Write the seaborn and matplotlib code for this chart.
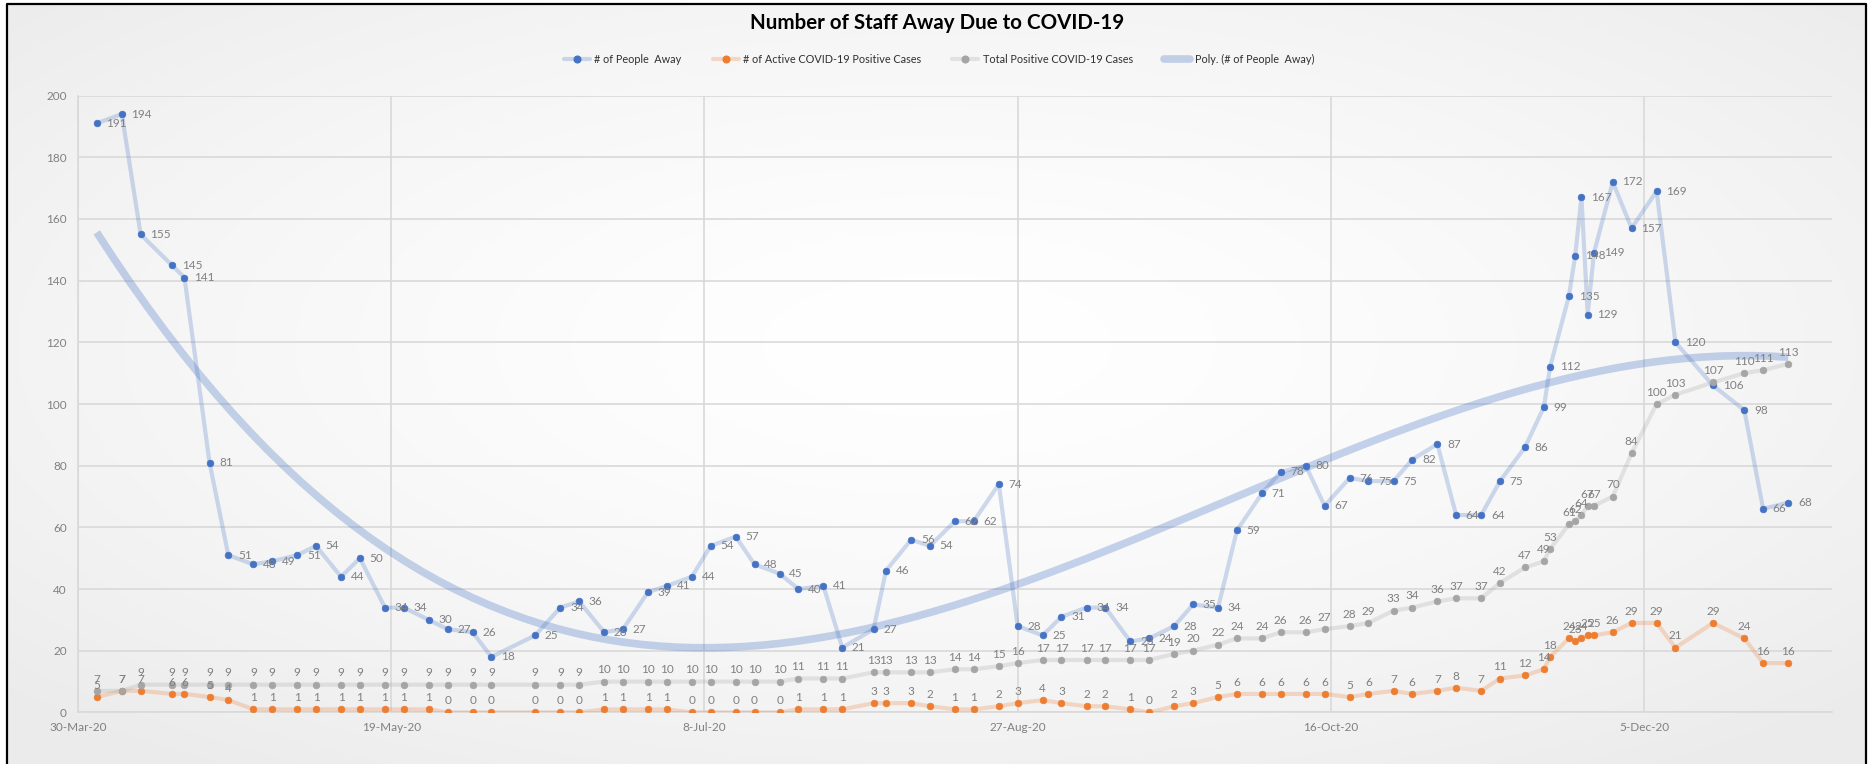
import numpy as np
import pandas as pd
import matplotlib
matplotlib.use('Agg')
import matplotlib.pyplot as plt
import matplotlib.dates as mdates
from matplotlib.colors import to_rgb
from matplotlib.lines import Line2D
import seaborn as sns

# report dates (twice a week, plus daily in late November)
dates = [
    '2020-04-02', '2020-04-06', '2020-04-09', '2020-04-14', '2020-04-16', '2020-04-20', '2020-04-23', '2020-04-27', '2020-04-30',
    '2020-05-04', '2020-05-07', '2020-05-11', '2020-05-14', '2020-05-18', '2020-05-21', '2020-05-25', '2020-05-28',
    '2020-06-01', '2020-06-04', '2020-06-11', '2020-06-15', '2020-06-18', '2020-06-22', '2020-06-25', '2020-06-29',
    '2020-07-02', '2020-07-06', '2020-07-09', '2020-07-13', '2020-07-16', '2020-07-20', '2020-07-23', '2020-07-27', '2020-07-30',
    '2020-08-04', '2020-08-06', '2020-08-10', '2020-08-13', '2020-08-17', '2020-08-20', '2020-08-24', '2020-08-27', '2020-08-31',
    '2020-09-03', '2020-09-07', '2020-09-10', '2020-09-14', '2020-09-17', '2020-09-21', '2020-09-24', '2020-09-28',
    '2020-10-01', '2020-10-05', '2020-10-08', '2020-10-12', '2020-10-15', '2020-10-19', '2020-10-22', '2020-10-26', '2020-10-29',
    '2020-11-02', '2020-11-05', '2020-11-09', '2020-11-12', '2020-11-16', '2020-11-19', '2020-11-20', '2020-11-23', '2020-11-24',
    '2020-11-25', '2020-11-26', '2020-11-27', '2020-11-30',
    '2020-12-03', '2020-12-07', '2020-12-10', '2020-12-16', '2020-12-21', '2020-12-24', '2020-12-28',
]
people_away = [
    191, 194, 155, 145, 141, 81, 51, 48, 49,
    51, 54, 44, 50, 34, 34, 30, 27,
    26, 18, 25, 34, 36, 26, 27, 39,
    41, 44, 54, 57, 48, 45, 40, 41, 21,
    27, 46, 56, 54, 62, 62, 74, 28, 25,
    31, 34, 34, 23, 24, 28, 35, 34,
    59, 71, 78, 80, 67, 76, 75, 75, 82,
    87, 64, 64, 75, 86, 99, 112, 135, 148, 167, 129, 149, 172,
    157, 169, 120, 106, 98, 66, 68,
]
active_cases = [
    5, 7, 7, 6, 6, 5, 4, 1, 1,
    1, 1, 1, 1, 1, 1, 1, 0,
    0, 0, 0, 0, 0, 1, 1, 1,
    1, 0, 0, 0, 0, 0, 1, 1, 1,
    3, 3, 3, 2, 1, 1, 2, 3, 4,
    3, 2, 2, 1, 0, 2, 3, 5,
    6, 6, 6, 6, 6, 5, 6, 7, 6,
    7, 8, 7, 11, 12, 14, 18, 24, 23, 24, 25, 25, 26,
    29, 29, 21, 29, 24, 16, 16,
]
total_cases = [
    7, 7, 9, 9, 9, 9, 9, 9, 9,
    9, 9, 9, 9, 9, 9, 9, 9,
    9, 9, 9, 9, 9, 10, 10, 10,
    10, 10, 10, 10, 10, 10, 11, 11, 11,
    13, 13, 13, 13, 14, 14, 15, 16, 17,
    17, 17, 17, 17, 17, 19, 20, 22,
    24, 24, 26, 26, 27, 28, 29, 33, 34,
    36, 37, 37, 42, 47, 49, 53, 61, 62, 64, 67, 67, 70,
    84, 100, 103, 107, 110, 111, 113,
]
tick_dates = ['2020-03-30', '2020-05-19', '2020-07-08', '2020-08-27', '2020-10-16', '2020-12-05']
x_start, x_end = '2020-03-30', '2021-01-04'

series_labels = ['# of People  Away', '# of Active COVID-19 Positive Cases',
                 'Total Positive COVID-19 Cases', 'Poly. (# of People  Away)']

sns.set_style('white')
plt.rcParams['font.family'] = ['Lato', 'DejaVu Sans']

df = pd.DataFrame({
    'day': mdates.date2num(pd.to_datetime(dates)),
    'away': people_away,
    'active': active_cases,
    'total': total_cases,
})

blue, orange, grey = '#4472C4', '#ED7D31', '#A5A5A5'
label_col = '#808080'


def soft(c, a):
    r, g, b = to_rgb(c)
    return (r, g, b, a)


fig = plt.figure(figsize=(18.74, 7.64), dpi=100, facecolor='white')

# faint radial shading of the chart area, like the excel chart style
bg = fig.add_axes([0.0037, 0, 0.992, 0.9948], zorder=-10)
gx, gy = np.meshgrid(np.linspace(-1, 1, 600), np.linspace(-1, 1, 300))
r = np.clip(np.sqrt(gx ** 2 + (gy + 0.1) ** 2) / 1.35, 0, 1)
v = 1 - 0.075 * r ** 1.5
bg.imshow(np.dstack([v, v, v]), aspect='auto', extent=(0, 1, 0, 1))
bg.axis('off')

ax = fig.add_axes([0.0416, 0.0675, 0.936, 0.8074])
ax.set_facecolor('none')

series = [('away', blue), ('active', orange), ('total', grey)]
for col, c in series:
    sns.lineplot(data=df, x='day', y=col, ax=ax, color=soft(c, 0.25), linewidth=3,
                 marker='o', markersize=4.8, markerfacecolor=c, markeredgecolor=c,
                 markeredgewidth=0.5, zorder=3)

# polynomial trend of people away
sns.regplot(data=df, x='day', y='away', order=3, ci=None, scatter=False, ax=ax,
            line_kws=dict(color=soft(blue, 0.3), linewidth=5.5, solid_capstyle='butt', zorder=2))

# data labels
for xv, yv in zip(df['day'], df['away']):
    ax.annotate(str(yv), (xv, yv), xytext=(7, 0), textcoords='offset points',
                ha='left', va='center', fontsize=8.5, color=label_col, zorder=5)
for col in ['total', 'active']:
    for xv, yv in zip(df['day'], df[col]):
        ax.annotate(str(yv), (xv, yv), xytext=(0, 4.5), textcoords='offset points',
                    ha='center', va='bottom', fontsize=8.5, color=label_col, zorder=5)

ax.set_xlim(mdates.date2num(pd.Timestamp(x_start)), mdates.date2num(pd.Timestamp(x_end)))
ax.set_xticks(mdates.date2num(pd.to_datetime(tick_dates)))
ax.xaxis.set_major_formatter(mdates.DateFormatter('%-d-%b-%y'))
ax.set_ylim(0, 200)
ax.set_yticks(range(0, 201, 20))
ax.set_xlabel('')
ax.set_ylabel('')
ax.grid(True, color='#d9d9d9', linewidth=1.2)
ax.set_axisbelow(True)
for s in ['top', 'right']:
    ax.spines[s].set_visible(False)
for s in ['left', 'bottom']:
    ax.spines[s].set_color('#d9d9d9')
    ax.spines[s].set_linewidth(1.2)
ax.tick_params(length=0, labelsize=8.5, labelcolor=label_col)
ax.tick_params(axis='x', pad=7)
ax.tick_params(axis='y', pad=8)

fig.text(0.5, 1 - 23 / 764, 'Number of Staff Away Due to COVID-19', ha='center', va='center',
         fontsize=14.8, fontweight='bold', color='black')

handles = [
    Line2D([], [], color=soft(blue, 0.25), lw=3, marker='o', ms=4.8, mfc=blue, mec=blue),
    Line2D([], [], color=soft(orange, 0.25), lw=3, marker='o', ms=4.8, mfc=orange, mec=orange),
    Line2D([], [], color=soft(grey, 0.25), lw=3, marker='o', ms=4.8, mfc=grey, mec=grey),
    Line2D([], [], color=soft(blue, 0.3), lw=5.5),
]
fig.legend(handles, series_labels, loc='center', bbox_to_anchor=(0.501, 1 - 59 / 764), ncol=4,
           frameon=False, fontsize=7.8, handlelength=2.4, columnspacing=2.9, handletextpad=0.4,
           labelcolor='#303030')

# black frame round the chart (bottom edge is cropped off)
fig.add_artist(Line2D([0.0037, 0.0037, 0.9957, 0.9957], [-0.01, 0.9948, 0.9948, -0.01],
                      transform=fig.transFigure, color='black', lw=1.6))

fig.savefig('out.png', dpi=100, facecolor='white')
